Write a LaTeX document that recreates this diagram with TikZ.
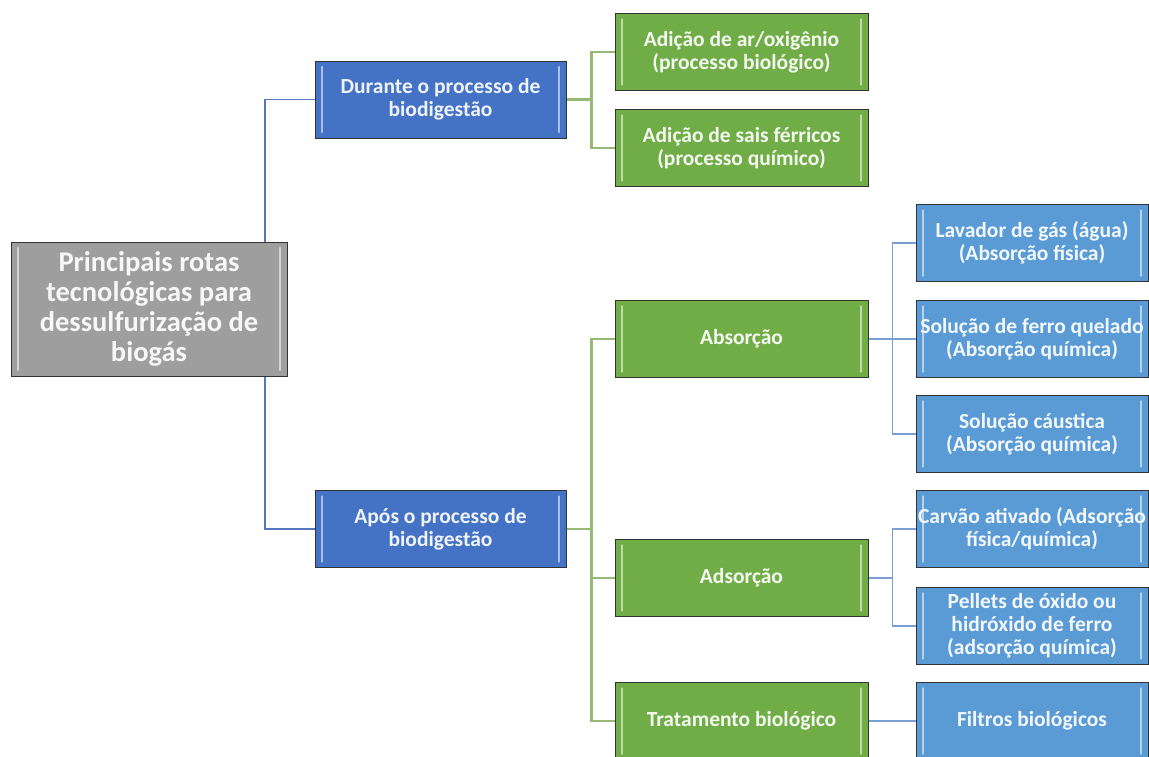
\documentclass[tikz,border=0pt]{standalone}
\usepackage{fontspec}
\setmainfont{Carlito}
\usepackage{tikz}
\usetikzlibrary{
  positioning,
  backgrounds,
  calc
}
\definecolor{rootgray}{RGB}{158,158,158}
\definecolor{stageblue}{RGB}{68,114,196}
\definecolor{routegreen}{RGB}{112,173,71}
\definecolor{techblue}{RGB}{91,155,213}
\definecolor{linkblue}{RGB}{84,118,188}
\definecolor{linkgreen}{RGB}{150,185,115}
\definecolor{linklight}{RGB}{120,160,210}

\begin{document}
\begin{tikzpicture}[x=1pt, y=-1pt,
  box/.style={draw=black!80, line width=1pt, fill=#1, text=white!92!#1,
              font=\bfseries\fontsize{21.5}{23}\selectfont, align=center,
              minimum height=77pt, inner sep=0pt,
              path picture={
                \draw[#1!45!white, line width=2.8pt, line cap=round]
                  ([xshift=7pt,yshift=-6pt]path picture bounding box.north west)
                    -- ([xshift=7pt,yshift=6pt]path picture bounding box.south west)
                  ([xshift=-7pt,yshift=-6pt]path picture bounding box.north east)
                    -- ([xshift=-7pt,yshift=6pt]path picture bounding box.south east);}},
  rootbox/.style={box=rootgray, minimum width=276pt, minimum height=134pt,
                  font=\bfseries\fontsize{28.5}{30}\selectfont},
  stage/.style={box=stageblue, minimum width=251pt},
  route/.style={box=routegreen, minimum width=253pt},
  tech/.style={box=techblue, minimum width=232pt, text width=228pt,
               align=flush center},
  rootlink/.style={draw=linkblue, line width=1.3pt},
  routelink/.style={draw=linkgreen, line width=2.2pt},
  techlink/.style={draw=linklight, line width=1.4pt}
]
  \useasboundingbox (0,0) rectangle (1149,756);

  % root
  \node[rootbox] (root) at (149,309)
    {Principais rotas\\tecnológicas para\\dessulfurização de\\biogás};

  % stages
  \node[stage] (dur) at (440.5,99.5) {Durante o processo de\\biodigestão};
  \node[stage] (apos) at (440.5,529) {Após o processo de\\biodigestão};

  % routes
  \node[route] (ar) at (741.5,52) {Adição de ar/oxigênio\\(processo biológico)};
  \node[route] (sais) at (741.5,148) {Adição de sais férricos\\(processo químico)};
  \node[route] (absor) at (741.5,339) {Absorção};
  \node[route] (adsor) at (741.5,578) {Adsorção};
  \node[route] (trat) at (741.5,721) {Tratamento biológico};

  % technologies
  \node[tech] (lav) at (1032,243) {Lavador de gás (água)\\(Absorção física)};
  \node[tech] (ferro) at (1032,339) {\mbox{Solução de ferro quelado}\\(Absorção química)};
  \node[tech] (caus) at (1032,434) {Solução cáustica\\(Absorção química)};
  \node[tech] (carv) at (1032,529) {\mbox{Carvão ativado (Adsorção}\\física/química)};
  \node[tech] (pell) at (1032,626) {Pellets de óxido ou\\hidróxido de ferro\\(adsorção química)};
  \node[tech] (filt) at (1032,721) {Filtros biológicos};

  % connectors
  \begin{scope}[on background layer]
    \coordinate (rj) at (265,309);
    \draw[rootlink] (dur.west) -| (rj) |- (apos.west);

    \coordinate[right=25pt of dur.east] (dj);
    \draw[routelink] (dur.east) -- (dj);
    \draw[routelink] (ar.west) -| (dj) |- (sais.west);

    \coordinate[right=25pt of apos.east] (aj);
    \draw[routelink] (apos.east) -- (aj);
    \draw[routelink] (absor.west) -| (aj) |- (trat.west);
    \draw[routelink] (aj) |- (adsor.west);

    \coordinate[right=24pt of absor.east] (bj);
    \draw[techlink, line width=2.4pt] (absor.east) -- (bj);
    \draw[techlink] (lav.west) -| (bj) |- (caus.west);
    \draw[techlink] (bj) -- (ferro.west);

    \coordinate[right=24pt of adsor.east] (cj);
    \draw[techlink] (adsor.east) -- (cj);
    \draw[techlink] (carv.west) -| (cj) |- (pell.west);

    \draw[techlink] (trat.east) -- (filt.west);
  \end{scope}
\end{tikzpicture}
\end{document}
